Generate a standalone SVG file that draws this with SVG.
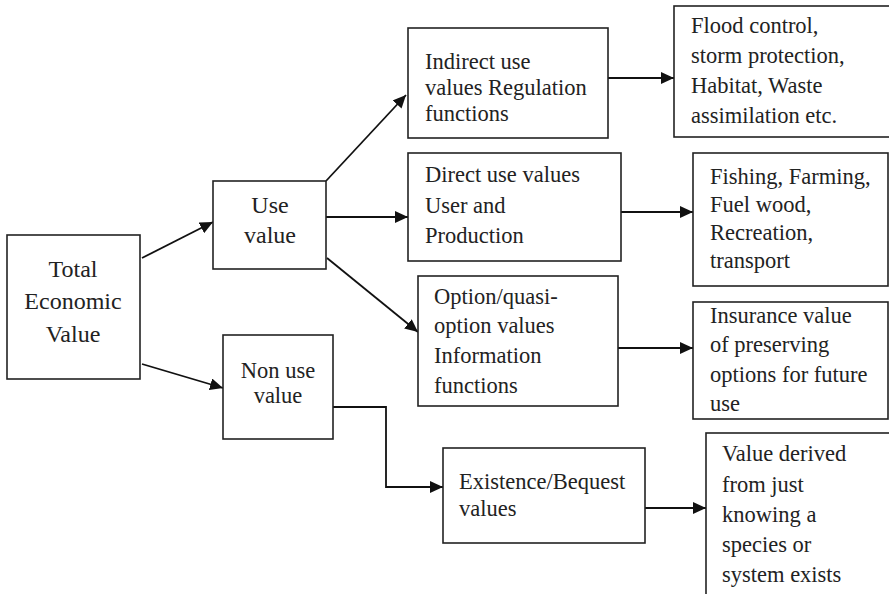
<svg xmlns="http://www.w3.org/2000/svg" width="889" height="594" viewBox="0 0 889 594">
<style>
.box{fill:#fff;stroke:#222;stroke-width:1.6}
.t{font-family:"Liberation Serif","Times New Roman",serif;font-size:22.5px;fill:#222}
.big{font-size:24px}
.c{text-anchor:middle}
.ln{fill:none;stroke:#111;stroke-width:1.8}
</style>
<defs>
<marker id="ah" markerUnits="userSpaceOnUse" markerWidth="14" markerHeight="12" refX="13" refY="6" orient="auto">
<path d="M0,0 L13,6 L0,12 Z" fill="#111"/>
</marker>
</defs>
<rect x="0" y="0" width="889" height="594" fill="#fff"/>
<g id="connectors">
<line class="ln" x1="142" y1="258" x2="213" y2="222" marker-end="url(#ah)"/>
<line class="ln" x1="142" y1="364" x2="223" y2="388" marker-end="url(#ah)"/>
<line class="ln" x1="326" y1="181" x2="406" y2="95" marker-end="url(#ah)"/>
<line class="ln" x1="326" y1="217" x2="408" y2="217" marker-end="url(#ah)"/>
<line class="ln" x1="327" y1="258" x2="418" y2="332" marker-end="url(#ah)"/>
<polyline class="ln" points="333,407 386,407 386,487 443,487" marker-end="url(#ah)"/>
<line class="ln" x1="608" y1="78" x2="674" y2="78" marker-end="url(#ah)"/>
<line class="ln" x1="621" y1="212" x2="693" y2="212" marker-end="url(#ah)"/>
<line class="ln" x1="618" y1="348" x2="693" y2="348" marker-end="url(#ah)"/>
<line class="ln" x1="645" y1="508" x2="706" y2="508" marker-end="url(#ah)"/>
</g>
<g id="tev">
<rect class="box" x="7" y="235" width="133" height="144"/>
<text class="t big c" x="73" y="277">Total</text>
<text class="t big c" x="73" y="309">Economic</text>
<text class="t big c" x="73" y="342">Value</text>
</g>
<g id="use">
<rect class="box" x="213" y="181" width="113" height="88"/>
<text class="t big c" x="270" y="213">Use</text>
<text class="t big c" x="270" y="243">value</text>
</g>
<g id="nonuse">
<rect class="box" x="223" y="335" width="110" height="104"/>
<text class="t c" x="278" y="378">Non use</text>
<text class="t c" x="278" y="403">value</text>
</g>
<g id="indirect">
<rect class="box" x="408" y="28" width="200" height="110"/>
<text class="t" x="425" y="69">Indirect use</text>
<text class="t" x="425" y="95">values Regulation</text>
<text class="t" x="425" y="121">functions</text>
</g>
<g id="direct">
<rect class="box" x="408" y="153" width="213" height="108"/>
<text class="t" x="425" y="182">Direct use values</text>
<text class="t" x="425" y="213">User and</text>
<text class="t" x="425" y="243">Production</text>
</g>
<g id="option">
<rect class="box" x="418" y="276" width="200" height="130"/>
<text class="t" x="434" y="304">Option/quasi-</text>
<text class="t" x="434" y="333">option values</text>
<text class="t" x="434" y="363">Information</text>
<text class="t" x="434" y="393">functions</text>
</g>
<g id="existence">
<rect class="box" x="443" y="448" width="202" height="95"/>
<text class="t" x="459" y="489">Existence/Bequest</text>
<text class="t" x="459" y="516">values</text>
</g>
<g id="flood">
<rect class="box" x="674" y="6" width="230" height="131"/>
<text class="t" x="691" y="33">Flood control,</text>
<text class="t" x="691" y="63">storm protection,</text>
<text class="t" x="691" y="93">Habitat, Waste</text>
<text class="t" x="691" y="123">assimilation etc.</text>
</g>
<g id="fishing">
<rect class="box" x="693" y="153" width="195" height="133"/>
<text class="t" x="710" y="184">Fishing, Farming,</text>
<text class="t" x="710" y="212">Fuel wood,</text>
<text class="t" x="710" y="240">Recreation,</text>
<text class="t" x="710" y="268">transport</text>
</g>
<g id="insurance">
<rect class="box" x="693" y="302" width="195" height="117"/>
<text class="t" x="710" y="323">Insurance value</text>
<text class="t" x="710" y="352">of preserving</text>
<text class="t" x="710" y="382">options for future</text>
<text class="t" x="710" y="411">use</text>
</g>
<g id="valuederived">
<rect class="box" x="706" y="433" width="200" height="180"/>
<text class="t" x="722" y="461">Value derived</text>
<text class="t" x="722" y="492">from just</text>
<text class="t" x="722" y="522">knowing a</text>
<text class="t" x="722" y="552">species or</text>
<text class="t" x="722" y="582">system exists</text>
</g>
</svg>
